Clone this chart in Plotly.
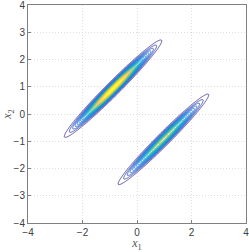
import numpy as np
import plotly.graph_objects as go

# Cluster parameters
centers_x = [-0.88, 0.97]
centers_y = [0.93, -0.93]
weights = [1.0, 0.62]
sigma_along = [0.95, 0.95]
sigma_perp = [0.095, 0.095]
angle_deg = [45.0, 45.0]

x_ticks = [-4, -2, 0, 2, 4]
y_ticks = [-4, -3, -2, -1, 0, 1, 2, 3, 4]

grid = np.linspace(-4, 4, 481)
X, Y = np.meshgrid(grid, grid)
Z = np.zeros_like(X)
for cx, cy, w, sa, sp, a in zip(centers_x, centers_y, weights, sigma_along, sigma_perp, angle_deg):
    t = np.deg2rad(a)
    dx, dy = X - cx, Y - cy
    u = dx * np.cos(t) + dy * np.sin(t)
    v = -dx * np.sin(t) + dy * np.cos(t)
    Z += w * np.exp(-0.5 * ((u / sa) ** 2 + (v / sp) ** 2))

parula = [
    [0.0, 'rgb(53,42,135)'], [0.1, 'rgb(15,92,221)'], [0.2, 'rgb(18,125,216)'],
    [0.3, 'rgb(7,156,207)'], [0.4, 'rgb(21,177,180)'], [0.5, 'rgb(89,189,140)'],
    [0.6, 'rgb(165,190,107)'], [0.7, 'rgb(225,185,82)'], [0.8, 'rgb(252,206,46)'],
    [0.9, 'rgb(250,232,33)'], [1.0, 'rgb(249,251,14)']
]

zmax = Z.max()
fig = go.Figure(go.Contour(
    x=grid, y=grid, z=Z,
    contours=dict(coloring='lines', start=0.03 * zmax, end=zmax, size=0.03 * zmax),
    colorscale=parula, zmin=0, zmax=zmax,
    line=dict(width=0.8), showscale=False, hoverinfo='skip'
))

axis_common = dict(
    showline=True, linecolor='#808080', linewidth=1, mirror=True,
    ticks='inside', ticklen=3, tickcolor='#808080',
    showgrid=True, gridcolor='#dedede', griddash='1px,2px', gridwidth=1,
    zeroline=False, automargin=False, ticklabeloverflow='allow',
    tickfont=dict(family='Liberation Sans', size=10, color='#404040'),
)
fig.update_layout(
    width=249, height=252,
    margin=dict(l=28, r=3, t=5, b=29),
    plot_bgcolor='white', paper_bgcolor='white',
    xaxis=dict(range=[-4, 4], tickvals=x_ticks, **axis_common,
               title=dict(text='<i>x</i><sub>1</sub>', standoff=0,
                          font=dict(family='Liberation Serif', size=12, color='#555555'))),
    yaxis=dict(range=[-4, 4], tickvals=y_ticks, **axis_common,
               title=dict(text='<i>x</i><sub>2</sub>', standoff=0,
                          font=dict(family='Liberation Serif', size=12, color='#555555'))),
)
fig.write_html("out.html", config={'displayModeBar': False})
with open("out.html", "r", encoding="utf-8") as f:
    html = f.read()
html = html.replace("<head>", "<head><style>html,body{margin:0;padding:0;overflow:hidden;}</style>", 1)
with open("out.html", "w", encoding="utf-8") as f:
    f.write(html)
